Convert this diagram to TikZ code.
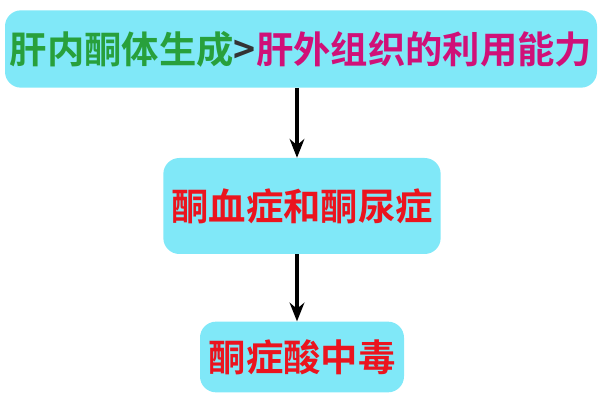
\documentclass[tikz,border=0pt]{standalone}
\usepackage{fontspec}
\newfontfamily\cjk{Noto Sans CJK SC Bold}
\usetikzlibrary{arrows.meta}
\definecolor{boxcyan}{RGB}{128,232,248}
\definecolor{txtgreen}{RGB}{40,160,60}
\definecolor{txtpink}{RGB}{208,16,120}
\definecolor{txtred}{RGB}{235,20,30}
\begin{document}
\begin{tikzpicture}[x=0.75pt,y=0.75pt,yscale=-1,xscale=1,
  stepbox/.style={fill=boxcyan,rounded corners=12pt,inner sep=0pt,font=\cjk\fontsize{28}{32}\selectfont},
  flow/.style={-{Stealth[length=14pt,width=11pt]},line width=2.4pt}]
  \useasboundingbox (0,0) rectangle (600,402);
  % boxes
  \node[stepbox,minimum width=444pt,minimum height=58pt] (cause) at (301,49) {\textcolor{txtgreen}{肝内酮体生成}\textcolor{black!80}{>}\textcolor{txtpink}{肝外组织的利用能力}};
  \node[stepbox,minimum width=208pt,minimum height=72pt,text=txtred] (blood) at (302,206) {酮血症和酮尿症};
  \node[stepbox,minimum width=153pt,minimum height=53pt,text=txtred] (acid) at (302,357) {酮症酸中毒};
  % arrows
  \draw[flow] (cause.south -| 297,0) -- (blood.north -| 297,0);
  \draw[flow] (blood.south -| 297,0) -- (acid.north -| 297,0);
\end{tikzpicture}
\end{document}
